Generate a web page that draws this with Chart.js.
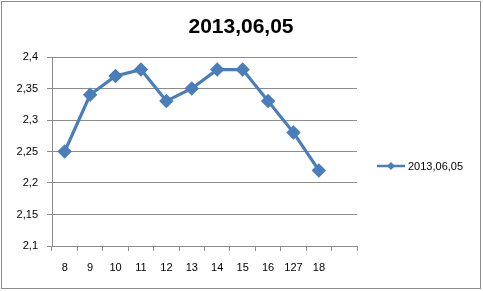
<!DOCTYPE html>
<html><head><meta charset="utf-8">
<script src="https://cdn.jsdelivr.net/npm/chart.js@4/dist/chart.umd.min.js"></script>
<style>html,body{margin:0;padding:0;background:#fff}#wrap{width:483px;height:291px;position:relative}</style>
</head><body><div id="wrap"><canvas id="c" width="483" height="291"></canvas></div>
<script>
const chartTitle = "2013,06,05";
const categories = ["8","9","10","11","12","13","14","15","16","127","18",""];
const seriesLabel = "2013,06,05";
const seriesValues = [2.25,2.34,2.37,2.38,2.33,2.35,2.38,2.38,2.33,2.28,2.22,null];
const yTicks = [2.1,2.15,2.2,2.25,2.3,2.35,2.4];

const blue = '#4A7EBB';
const grid = '#8c8c8c';
const FONT = "'Liberation Sans', Arial, sans-serif";

const deco = {
  id:'deco',
  afterDraw(chart){
    const ctx = chart.ctx;
    ctx.save();
    ctx.strokeStyle = grid; ctx.lineWidth = 1;
    ctx.strokeRect(1.5,1.5,479,287);
    ctx.fillStyle = '#000';
    ctx.font = "bold 21px " + FONT;
    ctx.textAlign = 'center'; ctx.textBaseline = 'middle';
    ctx.fillText(chartTitle, 241, 27);
    // legend
    const ly = 166;
    ctx.strokeStyle = blue; ctx.lineWidth = 2.5;
    ctx.beginPath(); ctx.moveTo(377, ly); ctx.lineTo(405, ly); ctx.stroke();
    ctx.fillStyle = blue;
    ctx.beginPath(); ctx.moveTo(391, ly-4); ctx.lineTo(395, ly); ctx.lineTo(391, ly+4); ctx.lineTo(387, ly); ctx.closePath(); ctx.fill();
    ctx.fillStyle = '#000'; ctx.font = "11px " + FONT; ctx.textAlign='left';
    ctx.fillText(chart.data.datasets[0].label, 408, ly+1);
    ctx.restore();
  }
};

new Chart(document.getElementById('c'), {
  type:'line',
  data:{labels:categories, datasets:[{label:seriesLabel, data:seriesValues, borderColor:blue, backgroundColor:blue, borderWidth:3.2, pointStyle:'rectRot', pointRadius:5, pointHoverRadius:5, tension:0, spanGaps:false}]},
  options:{
    responsive:false, animation:false, devicePixelRatio:1,
    layout:{padding:{left:0,right:126,top:57,bottom:0}},
    plugins:{legend:{display:false}, title:{display:false}, tooltip:{enabled:false}},
    scales:{
      x:{type:'category', offset:true,
        grid:{offset:true, drawOnChartArea:false, drawTicks:true, tickLength:5, color:grid},
        border:{color:grid},
        ticks:{font:{family:FONT,size:11}, color:'#000', padding:10, maxRotation:0, autoSkip:false},
        afterFit(s){ s.height = 45; }
      },
      y:{min:2.1, max:2.4,
        afterBuildTicks(s){ s.ticks = yTicks.map(v=>({value:v})); },
        grid:{color:grid, tickLength:5},
        border:{color:grid},
        ticks:{font:{family:FONT,size:11}, color:'#000', padding:9,
          callback:(v)=>String(Math.round(v*100)/100).replace('.',',')},
        afterFit(s){ s.width = 52; }
      }
    }
  },
  plugins:[deco]
});
</script></body></html>
